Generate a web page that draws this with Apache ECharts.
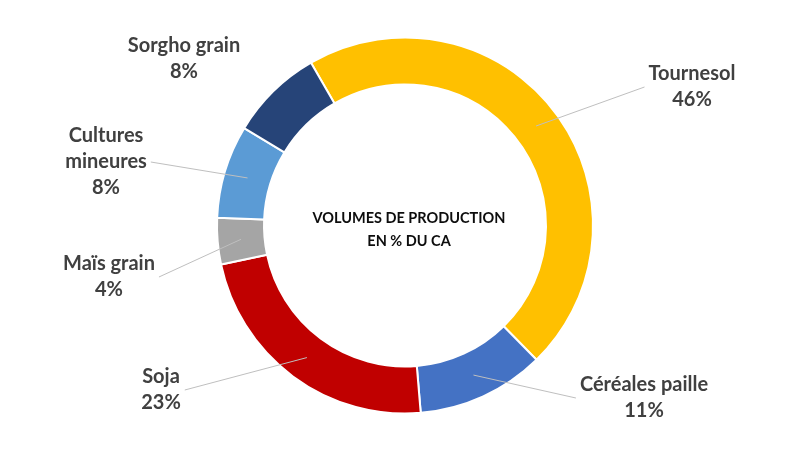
<!DOCTYPE html>
<html>
<head>
<meta charset="utf-8">
<script src="https://cdn.jsdelivr.net/npm/echarts@6/dist/echarts.min.js"></script>
<style>
  html, body { margin: 0; padding: 0; background: #ffffff; }
  #chart { width: 800px; height: 451px; }
</style>
</head>
<body>
<div id="chart"></div>
<script>
// ---- data ----
const categories = ['Tournesol', 'Céréales paille', 'Soja', 'Maïs grain', 'Cultures mineures', 'Sorgho grain'];
const labelTexts = ['Tournesol', 'Céréales paille', 'Soja', 'Maïs grain', 'Cultures\nmineures', 'Sorgho grain'];
const shares = [46, 11, 23, 4, 8, 8];
const centerTitle = 'VOLUMES DE PRODUCTION\nEN % DU CA';

// ---- styles / layout ----
const colors = ['#FFC000', '#4472C4', '#C00000', '#A5A5A5', '#5B9BD5', '#264478'];
const labelCenters = [[692, 87], [644, 398], [161, 390], [109, 277], [106, 162], [184, 59]];
const showLine = [true, true, true, true, true, false];
const pieCenter = [405, 225.5];
const rInner = 141, rOuter = 188;
const rMid = (rInner + rOuter) / 2;
const FONT = 'Lato, "Open Sans", sans-serif';

const chart = echarts.init(document.getElementById('chart'), null, { renderer: 'canvas' });

const ringData = categories.map((c, i) => ({
  name: c,
  value: shares[i],
  itemStyle: { color: colors[i] }
}));

const labelData = categories.map((c, i) => ({
  name: c,
  value: shares[i],
  labelLine: { show: showLine[i] }
}));

chart.setOption({
  animation: false,
  backgroundColor: '#ffffff',
  graphic: [{
    type: 'text',
    x: 409, y: 230,
    style: {
      text: centerTitle,
      textAlign: 'center',
      textVerticalAlign: 'middle',
      fontFamily: FONT,
      fontWeight: 'bold',
      fontSize: 14.5,
      lineHeight: 23,
      fill: '#0d0d0d'
    }
  }],
  series: [{
    // coloured ring
    type: 'pie',
    z: 2,
    center: pieCenter,
    radius: [rInner, rOuter],
    startAngle: 120,
    clockwise: true,
    silent: true,
    itemStyle: { borderColor: '#ffffff', borderWidth: 2 },
    label: { show: false },
    labelLine: { show: false },
    data: ringData
  }, {
    // transparent twin carrying labels; leader lines anchor at mid-ring
    type: 'pie',
    z: 5,
    center: pieCenter,
    radius: [rInner, rMid],
    startAngle: 120,
    clockwise: true,
    silent: true,
    avoidLabelOverlap: false,
    itemStyle: { color: 'rgba(0,0,0,0)', borderWidth: 0 },
    label: {
      show: true,
      position: 'outside',
      formatter: p => labelTexts[p.dataIndex] + '\n' + p.value + '%',
      fontFamily: FONT,
      fontWeight: 'bold',
      fontSize: 20,
      lineHeight: 26,
      color: '#404040',
      align: 'center',
      padding: [0, 4]
    },
    labelLine: {
      show: true,
      length: 10,
      length2: 0,
      lineStyle: { color: '#bfbfbf', width: 1 }
    },
    labelLayout: function (params) {
      const c = labelCenters[params.dataIndex];
      return { x: c[0], y: c[1], align: 'center', verticalAlign: 'middle' };
    },
    data: labelData
  }]
});
</script>
</body>
</html>
